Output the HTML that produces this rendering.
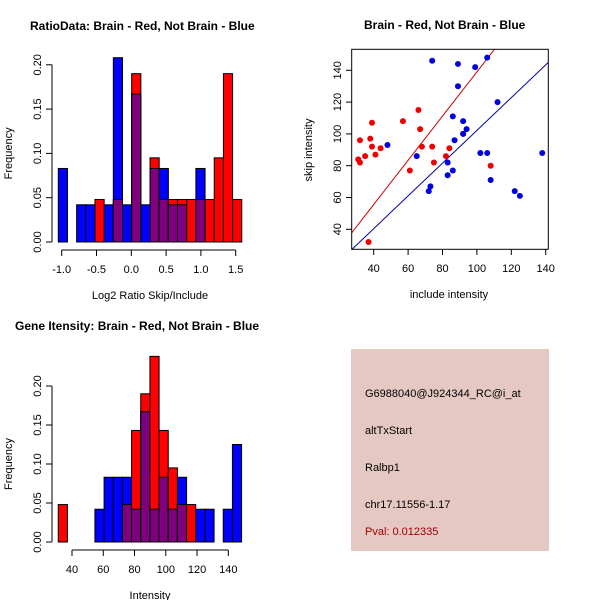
<!DOCTYPE html>
<html><head><meta charset="utf-8"><style>
body{margin:0;background:#fff;}
svg{display:block;font-family:"Liberation Sans",sans-serif;}
</style></head><body>
<svg id="chart" width="600" height="600" xmlns="http://www.w3.org/2000/svg">
<rect width="600" height="600" fill="#fff"/>
<g id="p1"></g>
<g id="p2"></g>
<g id="p3"></g>
<g>
<rect x="351" y="349" width="198" height="202" fill="#e5c8c1"/>
<text x="365" y="397" font-size="11" fill="#000">G6988040@J924344_RC@i_at</text>
<text x="365" y="434" font-size="11" fill="#000">altTxStart</text>
<text x="365" y="471" font-size="11" fill="#000">Ralbp1</text>
<text x="365" y="508" font-size="11" fill="#000">chr17.11556-1.17</text>
<text x="365" y="535" font-size="11" fill="#a00000">Pval: 0.012335</text>
</g>
</svg>
<script>
const ratioBlue=[0.083,0,0.042,0.042,0,0.042,0.208,0.042,0.167,0.042,0.083,0.083,0.042,0.042,0,0.083,0,0,0,0];
const ratioRed=[0,0,0,0,0.048,0,0.048,0,0.190,0,0.095,0.048,0.048,0.048,0.048,0.048,0.048,0.095,0.190,0.048];
const ratioXTicks=[-1.0,-0.5,0.0,0.5,1.0,1.5];
const freqTicks=[0,0.05,0.10,0.15,0.20];
const intBlue=[0,0,0,0,0.042,0.083,0.083,0.083,0.042,0.167,0.042,0.083,0.042,0.083,0,0.042,0.042,0,0.042,0.125];
const intRed=[0.048,0,0,0,0,0,0,0.048,0.143,0.190,0.238,0.143,0.095,0.048,0.048,0,0,0,0,0];
const intXTicks=[40,60,80,100,120,140];
const redX=[31,32,32,35,38,39,39,41,44,57,61,66,67,68,74,75,82,84,108,37,92];
const redY=[84,82,96,86,97,92,107,87,91,108,77,115,103,92,92,82,86,91,80,32,100];
const blueX=[48,65,74,72,73,83,83,86,86,87,89,89,92,92,94,99,102,106,106,108,112,122,125,138];
const blueY=[93,86,146,64,67,82,74,111,77,96,130,144,100,108,103,142,88,88,148,71,120,64,61,88];
const scXTicks=[40,60,80,100,120,140];
const scYTicks=[40,60,80,100,120,140];
const NS='http://www.w3.org/2000/svg';
function mk(p,t,a,txt){const e=document.createElementNS(NS,t);for(const k in a)e.setAttribute(k,a[k]);if(txt!==undefined)e.textContent=txt;p.appendChild(e);return e;}
function fmt(v,d){return v.toFixed(d);}
function hist(gid,title,xlab,blue,red,x0,bw,xs,y0,yPer05,xticks,xdec,titleX){
  const g=document.getElementById(gid);
  const X=v=>xs.px0+(v-xs.v0)*xs.k;
  const Y=f=>y0-f/0.05*yPer05;
  const t=mk(g,'text',{x:titleX,y:y0-212,'font-size':12,'font-weight':'bold'},title);
  
  for(let i=0;i<blue.length;i++){
    const xa=X(x0+i*bw),xb=X(x0+(i+1)*bw),b=blue[i],r=red[i],m=Math.min(b,r);
    const draw=(v,col,nm)=>{if(v<=0)return;const e=mk(g,'rect',{x:xa,y:Y(v),width:xb-xa,height:Y(0)-Y(v),fill:col,stroke:'#000','stroke-width':1});
      };
    draw(b,'#0000ff','bar-blue');draw(r,'#ff0000','bar-red');draw(m,'#7f007f','bar-overlap');
  }
  const ax=mk(g,'line',{x1:52,x2:52,y1:Y(0),y2:Y(0.2),stroke:'#000'});
  
  freqTicks.forEach(f=>{mk(g,'line',{x1:46,x2:52,y1:Y(f),y2:Y(f),stroke:'#000'});
    const tt=mk(g,'text',{x:0,y:0,'font-size':11,'text-anchor':'middle',transform:`translate(41,${Y(f)}) rotate(-90)`},fmt(f,2));
    });
  const xa=mk(g,'line',{x1:X(xticks[0]),x2:X(xticks[xticks.length-1]),y1:y0+8,y2:y0+8,stroke:'#000'});
  
  xticks.forEach(v=>{mk(g,'line',{x1:X(v),x2:X(v),y1:y0+8,y2:y0+14,stroke:'#000'});
    const tt=mk(g,'text',{x:X(v),y:y0+31,'font-size':11,'text-anchor':'middle'},fmt(v,xdec));
    });
  const xl=mk(g,'text',{x:150,y:y0+57,'font-size':11,'text-anchor':'middle'},xlab);
  
  const yl=mk(g,'text',{x:0,y:0,'font-size':11,'text-anchor':'middle',transform:`translate(12,${Y(0.1)}) rotate(-90)`},'Frequency');
  
}
hist('p1','RatioData: Brain - Red, Not Brain - Blue','Log2 Ratio Skip/Include',ratioBlue,ratioRed,-1.049,0.1318,{px0:61.7,v0:-1,k:69.6},242,44.3,ratioXTicks,1,30);
hist('p3','Gene Itensity: Brain - Red, Not Brain - Blue','Intensity',intBlue,intRed,31.2,5.865,{px0:72,v0:40,k:1.563},542,39,intXTicks,0,15);
// scatter
(function(){
  const g=document.getElementById('p2');
  const X=v=>373.7+(v-40)*1.72, Y=v=>229.3-(v-40)*1.59;
  const t=mk(g,'text',{x:364,y:29,'font-size':12,'font-weight':'bold'},'Brain - Red, Not Brain - Blue');
  
  const cp=mk(g,'clipPath',{id:'sc'});mk(cp,'rect',{x:352,y:49,width:196,height:200});
  const lines=mk(g,'g',{'clip-path':'url(#sc)'});
  const rl=mk(lines,'line',{x1:X(20),y1:Y(20*1.39),x2:X(150),y2:Y(150*1.39),stroke:'#cc0000'});
  
  const bl=mk(lines,'line',{x1:X(20),y1:Y(20*1.03-0.8),x2:X(150),y2:Y(150*1.03-0.8),stroke:'#0000aa'});
  
  redX.forEach((v,i)=>{const c=mk(g,'circle',{cx:X(v),cy:Y(redY[i]),r:3,fill:'#ee0000'});
    });
  blueX.forEach((v,i)=>{const c=mk(g,'circle',{cx:X(v),cy:Y(blueY[i]),r:3,fill:'#0000dd'});
    });
  const box=mk(g,'rect',{x:351.7,y:49.3,width:196.6,height:200,fill:'none',stroke:'#000'});
  
  scXTicks.forEach(v=>{mk(g,'line',{x1:X(v),x2:X(v),y1:249.3,y2:255,stroke:'#000'});
    const tt=mk(g,'text',{x:X(v),y:272,'font-size':11,'text-anchor':'middle'},String(v));
    });
  scYTicks.forEach(v=>{mk(g,'line',{x1:346,x2:351.7,y1:Y(v),y2:Y(v),stroke:'#000'});
    const tt=mk(g,'text',{x:0,y:0,'font-size':11,'text-anchor':'middle',transform:`translate(341,${Y(v)}) rotate(-90)`},String(v));
    });
  const xl=mk(g,'text',{x:449,y:298,'font-size':11,'text-anchor':'middle'},'include intensity');
  
  const yl=mk(g,'text',{x:0,y:0,'font-size':11,'text-anchor':'middle',transform:'translate(312,150) rotate(-90)'},'skip intensity');
  
})();
</script>
</body></html>
